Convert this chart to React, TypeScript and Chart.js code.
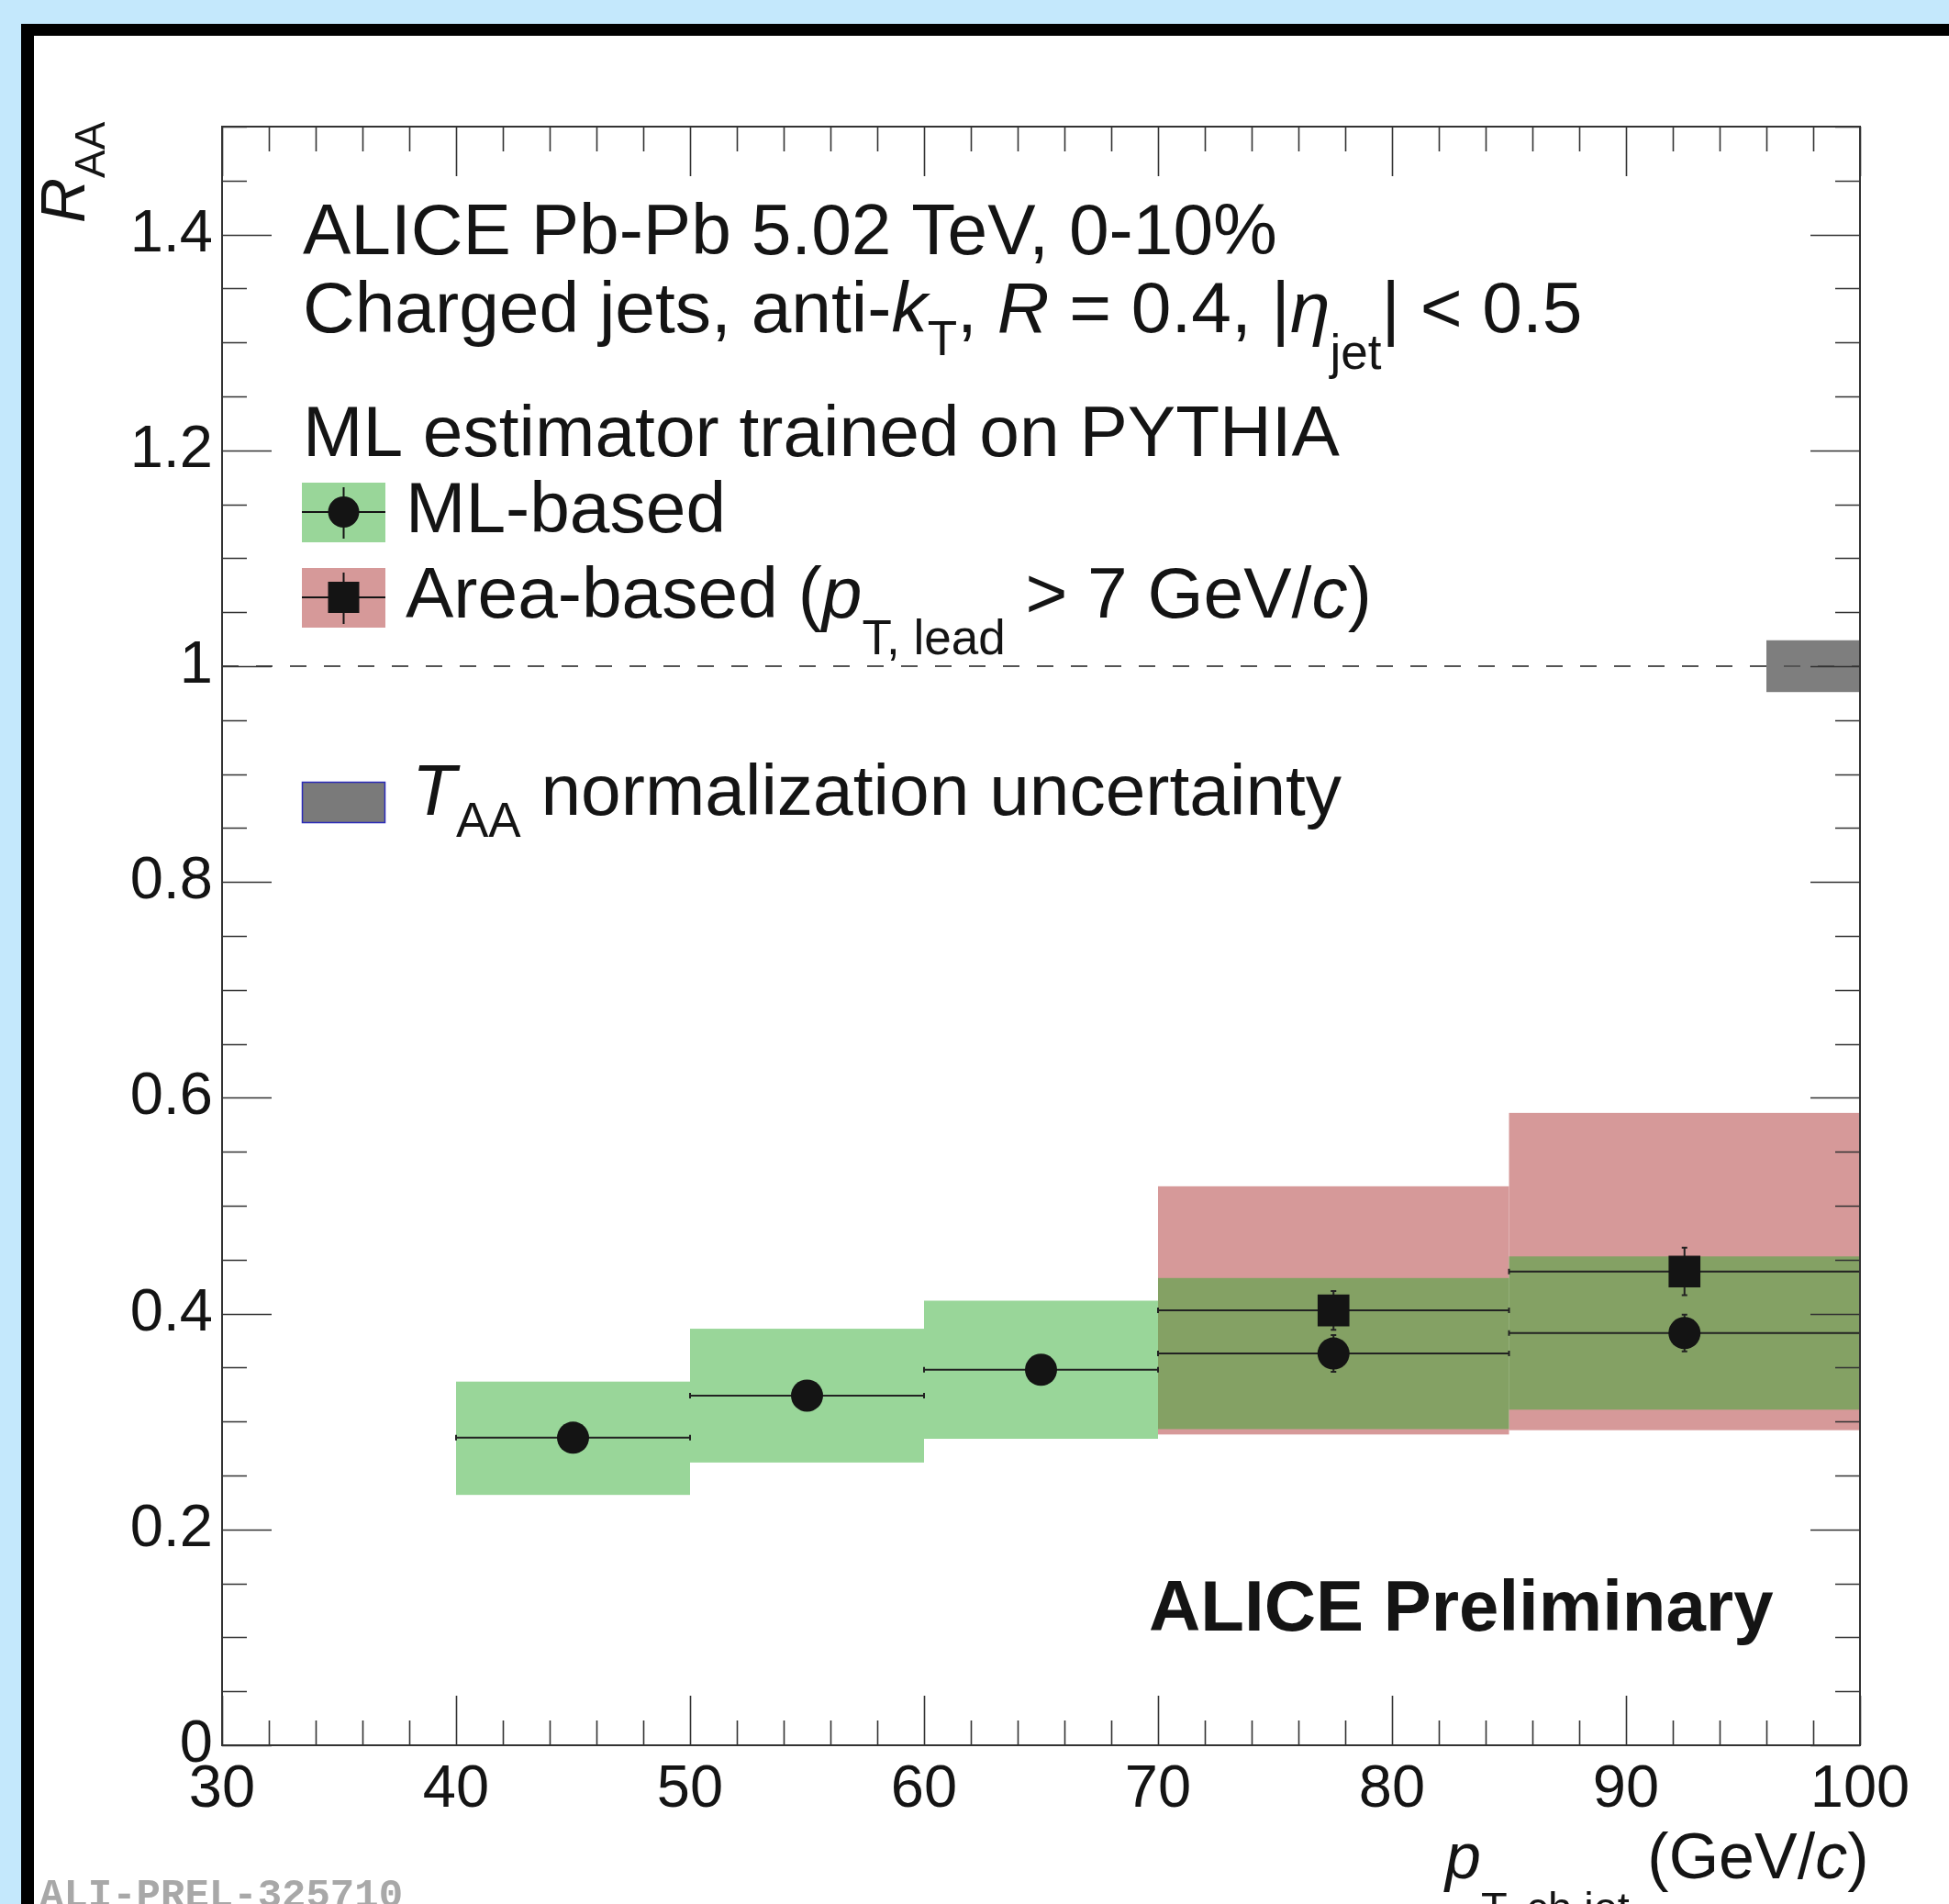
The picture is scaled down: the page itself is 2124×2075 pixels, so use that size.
import React, { useEffect, useRef } from 'react';
import { Chart, registerables } from 'chart.js';

Chart.register(...registerables);

const W = 2124;
const H = 2075;
const FONT = '"Liberation Sans", Arial, Helvetica, sans-serif';
const INK = '#141414';

// ---- data ----
const binLow = [40, 50, 60, 70, 85];
const binHigh = [50, 60, 70, 85, 100];
const mlValue = [0.285, 0.324, 0.348, 0.363, 0.382];
const mlStat = [0.012, 0.012, 0.012, 0.017, 0.017];
const mlSysLow = [0.232, 0.262, 0.284, 0.293, 0.311];
const mlSysHigh = [0.337, 0.386, 0.412, 0.433, 0.453];

const areaBinLow = [70, 85];
const areaBinHigh = [85, 100];
const areaValue = [0.403, 0.439];
const areaStat = [0.018, 0.022];
const areaSysLow = [0.288, 0.292];
const areaSysHigh = [0.518, 0.586];

const taaX = [96, 100];
const taaY = [0.976, 1.024];

const xTickValues = [30, 40, 50, 60, 70, 80, 90, 100];
const xTickLabels = ['30', '40', '50', '60', '70', '80', '90', '100'];
const yTickValues = [0, 0.2, 0.4, 0.6, 0.8, 1, 1.2, 1.4];
const yTickLabels = ['0', '0.2', '0.4', '0.6', '0.8', '1', '1.2', '1.4'];

type Seg = { t: string; size: number; italic?: boolean; bold?: boolean; dy?: number; family?: string };

function drawRich(ctx: CanvasRenderingContext2D, x: number, y: number, segs: Seg[], color = INK) {
  ctx.save();
  ctx.fillStyle = color;
  ctx.textBaseline = 'alphabetic';
  ctx.textAlign = 'left';
  let cx = x;
  for (const s of segs) {
    ctx.font = `${s.italic ? 'italic ' : ''}${s.bold ? 'bold ' : ''}${s.size}px ${s.family || FONT}`;
    ctx.fillText(s.t, cx, y + (s.dy || 0));
    cx += ctx.measureText(s.t).width;
  }
  ctx.restore();
}

const backgroundPlugin = {
  id: 'bg',
  beforeDraw(chart: any) {
    const ctx = chart.ctx as CanvasRenderingContext2D;
    ctx.save();
    ctx.fillStyle = '#c4e8fc';
    ctx.fillRect(0, 0, W, H);
    ctx.fillStyle = '#000';
    ctx.fillRect(23, 26, W, H);
    ctx.fillStyle = '#fff';
    ctx.fillRect(37, 39, W, H);
    ctx.restore();
  },
};

const boxesPlugin = {
  id: 'boxes',
  beforeDatasetsDraw(chart: any) {
    const ctx = chart.ctx as CanvasRenderingContext2D;
    const xs = chart.scales.x;
    const ys = chart.scales.y;
    const X = (v: number) => xs.getPixelForValue(v);
    const Y = (v: number) => ys.getPixelForValue(v);
    ctx.save();
    // area-based systematics
    ctx.fillStyle = 'rgb(214,153,153)';
    areaBinLow.forEach((lo, i) => {
      ctx.fillRect(X(lo), Y(areaSysHigh[i]), X(areaBinHigh[i]) - X(lo), Y(areaSysLow[i]) - Y(areaSysHigh[i]));
    });
    // ML systematics
    ctx.fillStyle = 'rgba(42,170,42,0.48)';
    binLow.forEach((lo, i) => {
      ctx.fillRect(X(lo), Y(mlSysHigh[i]), X(binHigh[i]) - X(lo), Y(mlSysLow[i]) - Y(mlSysHigh[i]));
    });
    // TAA box
    ctx.fillStyle = 'rgb(126,126,126)';
    ctx.fillRect(X(taaX[0]), Y(taaY[1]), X(taaX[1]) - X(taaX[0]), Y(taaY[0]) - Y(taaY[1]));
    // dashed unity line
    ctx.strokeStyle = '#555';
    ctx.lineWidth = 2;
    ctx.setLineDash([18, 19]);
    ctx.beginPath();
    ctx.moveTo(X(30), Y(1));
    ctx.lineTo(X(100), Y(1));
    ctx.stroke();
    ctx.setLineDash([]);
    // error bars
    ctx.strokeStyle = '#222';
    ctx.lineWidth = 2;
    const bars = (lo: number[], hi: number[], val: number[], st: number[]) => {
      lo.forEach((l, i) => {
        const y = Y(val[i]);
        const x0 = X(l), x1 = X(hi[i]);
        const xc = X((l + hi[i]) / 2);
        ctx.beginPath();
        ctx.moveTo(x0, y); ctx.lineTo(x1, y);
        ctx.moveTo(x0, y - 3); ctx.lineTo(x0, y + 3);
        ctx.moveTo(x1, y - 3); ctx.lineTo(x1, y + 3);
        const yt = Y(val[i] + st[i]), yb = Y(val[i] - st[i]);
        ctx.moveTo(xc, yt); ctx.lineTo(xc, yb);
        ctx.moveTo(xc - 3, yt); ctx.lineTo(xc + 3, yt);
        ctx.moveTo(xc - 3, yb); ctx.lineTo(xc + 3, yb);
        ctx.stroke();
      });
    };
    bars(areaBinLow, areaBinHigh, areaValue, areaStat);
    bars(binLow, binHigh, mlValue, mlStat);
    ctx.restore();
  },
};

const framePlugin = {
  id: 'frame',
  afterDatasetsDraw(chart: any) {
    const ctx = chart.ctx as CanvasRenderingContext2D;
    const { left, right, top, bottom } = chart.chartArea;
    const xs = chart.scales.x;
    const ys = chart.scales.y;
    ctx.save();
    ctx.strokeStyle = '#333';
    ctx.lineWidth = 1.6;
    for (let k = 0; k <= 35; k++) {
      const v = 30 + k * 2;
      const major = k % 5 === 0;
      const len = major ? 54 : 27;
      const px = Math.round(xs.getPixelForValue(v)) + 0.5;
      ctx.beginPath();
      ctx.moveTo(px, bottom); ctx.lineTo(px, bottom - len);
      ctx.moveTo(px, top); ctx.lineTo(px, top + len);
      ctx.stroke();
    }
    for (let k = 0; k <= 30; k++) {
      const v = k * 0.05;
      const major = k % 4 === 0;
      const len = major ? 54 : 27;
      const py = Math.round(ys.getPixelForValue(v)) + 0.5;
      ctx.beginPath();
      ctx.moveTo(left, py); ctx.lineTo(left + len, py);
      ctx.moveTo(right, py); ctx.lineTo(right - len, py);
      ctx.stroke();
    }
    ctx.lineWidth = 2;
    ctx.strokeRect(left, top, right - left, bottom - top);
    ctx.restore();
  },
};

const textPlugin = {
  id: 'texts',
  afterDraw(chart: any) {
    const ctx = chart.ctx as CanvasRenderingContext2D;
    const S = 78.5;
    const SUB = 53;
    drawRich(ctx, 330, 277, [{ t: 'ALICE Pb-Pb 5.02 TeV, 0-10%', size: S }]);
    drawRich(ctx, 330, 362, [
      { t: 'Charged jets, anti-', size: S },
      { t: 'k', size: S, italic: true },
      { t: 'T', size: SUB, dy: 25 },
      { t: ', ', size: S },
      { t: 'R', size: S, italic: true },
      { t: ' = 0.4, |', size: S },
      { t: 'η', size: S, italic: true },
      { t: 'jet', size: SUB, dy: 40 },
      { t: '| < 0.5', size: S },
    ]);
    drawRich(ctx, 330, 497, [{ t: 'ML estimator trained on PYTHIA', size: S }]);

    // legend entries
    ctx.save();
    ctx.fillStyle = 'rgb(153,214,153)';
    ctx.fillRect(329, 526, 91, 65);
    ctx.fillStyle = 'rgb(214,153,153)';
    ctx.fillRect(329, 619, 91, 65);
    ctx.fillStyle = 'rgb(122,122,122)';
    ctx.fillRect(329, 852, 91, 45);
    ctx.strokeStyle = '#2a2ab8';
    ctx.lineWidth = 1.5;
    ctx.strokeRect(329.5, 852.5, 90, 44);
    ctx.strokeStyle = INK;
    ctx.lineWidth = 2;
    ctx.beginPath();
    ctx.moveTo(329, 558); ctx.lineTo(420, 558);
    ctx.moveTo(374.5, 531); ctx.lineTo(374.5, 587);
    ctx.moveTo(329, 651); ctx.lineTo(420, 651);
    ctx.moveTo(374.5, 624); ctx.lineTo(374.5, 680);
    ctx.stroke();
    ctx.fillStyle = INK;
    ctx.beginPath();
    ctx.arc(374.5, 558, 17, 0, Math.PI * 2);
    ctx.fill();
    ctx.fillRect(357.5, 634, 34, 34);
    ctx.restore();

    drawRich(ctx, 442, 580, [{ t: 'ML-based', size: S }]);
    drawRich(ctx, 442, 673, [
      { t: 'Area-based (', size: S },
      { t: 'p', size: S, italic: true },
      { t: 'T, lead', size: SUB, dy: 40 },
      { t: ' > 7 GeV/', size: S },
      { t: 'c', size: S, italic: true },
      { t: ')', size: S },
    ]);
    drawRich(ctx, 449, 888, [
      { t: 'T', size: S, italic: true },
      { t: 'AA', size: SUB, dy: 24 },
      { t: ' normalization uncertainty', size: S },
    ]);

    drawRich(ctx, 1252, 1777, [{ t: 'ALICE Preliminary', size: 78, bold: true }]);

    // axis titles
    drawRich(ctx, 1575, 2047, [
      { t: 'p', size: 70, italic: true },
      { t: 'T, ch jet', size: 47, dy: 48 },
      { t: ' (GeV/', size: 70 },
      { t: 'c', size: 70, italic: true },
      { t: ')', size: 70 },
    ]);
    ctx.save();
    ctx.translate(92, 243);
    ctx.rotate(-Math.PI / 2);
    drawRich(ctx, 0, 0, [
      { t: 'R', size: 68, italic: true },
      { t: 'AA', size: 46, dy: 22 },
    ]);
    ctx.restore();

    drawRich(ctx, 43, 2078, [{ t: 'ALI-PREL-325710', size: 44, bold: true, family: '"Liberation Mono", "DejaVu Sans Mono", monospace' }], '#a8a8a8');
  },
};

export default function App() {
  const ref = useRef<HTMLCanvasElement | null>(null);

  useEffect(() => {
    if (!ref.current) return;
    const mlPoints = binLow.map((l, i) => ({ x: (l + binHigh[i]) / 2, y: mlValue[i] }));
    const areaPoints = areaBinLow.map((l, i) => ({ x: (l + areaBinHigh[i]) / 2, y: areaValue[i] }));
    const chart = new Chart(ref.current, {
      type: 'scatter',
      data: {
        datasets: [
          {
            label: 'ML-based',
            data: mlPoints,
            pointStyle: 'circle',
            pointRadius: 17.5,
            backgroundColor: INK,
            borderColor: INK,
            borderWidth: 0,
          },
          {
            label: 'Area-based',
            data: areaPoints,
            pointStyle: 'rect',
            pointRadius: 24.5,
            backgroundColor: INK,
            borderColor: INK,
            borderWidth: 0,
          },
        ],
      } as any,
      options: {
        responsive: false,
        animation: false,
        devicePixelRatio: 1,
        layout: { padding: { top: 138, right: 97, left: 0, bottom: 0 } },
        plugins: { legend: { display: false }, tooltip: { enabled: false } },
        scales: {
          x: {
            type: 'linear',
            position: 'bottom',
            min: 30,
            max: 100,
            afterBuildTicks: (s: any) => {
              s.ticks = xTickValues.map((v) => ({ value: v }));
            },
            afterFit: (s: any) => {
              s.height = 173;
            },
            grid: { display: false, drawTicks: false },
            border: { display: false },
            ticks: {
              font: { family: FONT, size: 65 },
              color: INK,
              padding: 10,
              maxRotation: 0,
              autoSkip: false,
              callback: (_v: any, i: number) => xTickLabels[i],
            },
          },
          y: {
            type: 'linear',
            min: 0,
            max: 1.5,
            afterBuildTicks: (s: any) => {
              s.ticks = yTickValues.map((v) => ({ value: v }));
            },
            afterFit: (s: any) => {
              s.width = 242;
            },
            grid: { display: false, drawTicks: false },
            border: { display: false },
            ticks: {
              font: { family: FONT, size: 65 },
              color: INK,
              padding: 10,
              autoSkip: false,
              callback: (_v: any, i: number) => yTickLabels[i],
            },
          },
        },
      } as any,
      plugins: [backgroundPlugin, boxesPlugin, framePlugin, textPlugin],
    });
    return () => chart.destroy();
  }, []);

  return (
    <div style={{ position: 'absolute', left: 0, top: 0, width: W, height: H, overflow: 'hidden' }}>
      <canvas ref={ref} width={W} height={H} style={{ width: W, height: H, display: 'block' }} />
    </div>
  );
}
